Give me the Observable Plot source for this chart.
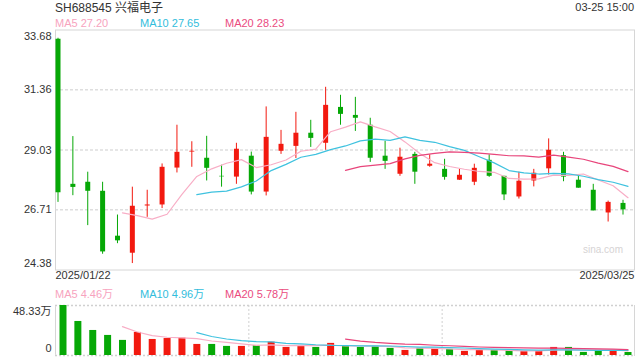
<!DOCTYPE html>
<html><head><meta charset="utf-8">
<script src="https://cdn.jsdelivr.net/npm/d3@7"></script>
<script src="https://cdn.jsdelivr.net/npm/@observablehq/plot@0.6"></script>
<style>
body{margin:0;background:#fff;}
#wrap{position:relative;width:640px;height:360px;overflow:hidden;font-family:"Liberation Sans",Arial,"Noto Sans CJK SC",sans-serif;color:#333;}
.t{position:absolute;white-space:nowrap;line-height:1;font-size:11px;}
#wrap svg{position:absolute;left:0;}
</style></head><body><div id="wrap"></div>
<script>
// ---- data ----
const dates = ["2025-01-22","2025-01-23","2025-01-24","2025-01-27","2025-02-05","2025-02-06","2025-02-07","2025-02-10","2025-02-11","2025-02-12","2025-02-13","2025-02-14","2025-02-17","2025-02-18","2025-02-19","2025-02-20","2025-02-21","2025-02-24","2025-02-25","2025-02-26","2025-02-27","2025-02-28","2025-03-03","2025-03-04","2025-03-05","2025-03-06","2025-03-07","2025-03-10","2025-03-11","2025-03-12","2025-03-13","2025-03-14","2025-03-17","2025-03-18","2025-03-19","2025-03-20","2025-03-21","2025-03-24","2025-03-25"];
const open  = [33.32,27.70,27.78,27.43,25.69,25.03,26.86,26.90,28.33,28.95,28.71,28.01,27.98,28.79,27.40,28.98,29.17,29.68,29.29,30.68,30.37,29.99,28.79,28.09,28.86,28.40,28.28,27.86,27.78,28.63,28.01,27.21,27.83,28.30,28.81,27.86,27.47,26.59,26.96];
const close = [27.37,27.58,27.43,25.08,25.51,26.85,26.90,28.36,28.94,28.98,28.32,27.99,29.06,27.40,29.52,29.25,29.68,29.48,30.76,30.41,30.26,28.71,28.59,28.75,28.17,28.48,27.97,28.05,28.32,28.01,27.29,27.82,28.13,29.02,27.98,27.55,26.67,27.00,26.71];
const high  = [33.36,29.55,28.17,27.78,26.51,27.59,27.47,28.49,29.99,29.35,29.56,28.44,29.29,28.95,30.70,29.79,30.49,30.18,31.46,31.15,31.07,30.26,29.37,29.10,28.94,28.84,28.67,28.28,28.48,28.84,28.01,28.17,28.28,29.46,28.94,28.06,27.70,27.05,27.08];
const low   = [27.00,27.26,26.10,24.99,25.40,24.63,26.42,26.76,28.14,28.36,27.83,27.59,27.70,27.29,27.25,28.86,28.70,29.13,29.02,29.99,29.75,28.55,28.28,28.01,27.70,28.36,27.86,27.85,27.65,27.97,27.07,27.13,27.60,28.06,27.80,27.55,26.67,26.24,26.51];
const volume = [48.33,32.9,24.2,19.4,14.6,22.3,15.5,16.4,16.8,10.7,10.7,8.8,8.8,9.7,12.9,7.8,9.7,7.8,11.7,8.8,7.8,8.8,6.9,4.9,6.9,6.9,5.9,4.0,4.9,4.9,4.9,4.0,4.0,7.8,7.8,3.0,4.9,4.0,2.9]; // 万股
const priceTicks = [33.68,31.36,29.03,26.71,24.38];
const volTicks = [48.33,0];
const dateLabels = ["2025/01/22","2025/03/25"];
const title = "SH688545 兴福电子";
const stamp = "03-25 15:00";
const maLabels = ["MA5 27.20","MA10 27.65","MA20 28.23"];
const volMaLabels = ["MA5 4.46万","MA10 4.96万","MA20 5.78万"];

// ---- styles ----
const RED = "#f2190f", GREEN = "#06a806";
const C5 = "#f8aec6", C10 = "#3fc2df", C20 = "#e8457b";
const T5 = "#f7a3be", T10 = "#32bddc", T20 = "#ea4b80";
const FONT = '"Liberation Sans",Arial,"Noto Sans CJK SC",sans-serif';

const rows = dates.map((d, i) => ({
  i, date: d, open: open[i], close: close[i], high: high[i], low: low[i], vol: volume[i],
  dir: close[i] >= open[i] ? "up" : "down"
}));

const wrap = document.getElementById("wrap");
function addText(txt, css, color) {
  const el = document.createElement("div");
  el.className = "t";
  el.textContent = txt;
  Object.assign(el.style, css);
  if (color) el.style.color = color;
  wrap.appendChild(el);
}
addText(title, {left: "55px", top: "1.5px", fontSize: "12px"}, "#333");
addText(stamp, {right: "6px", top: "1.7px"}, "#333");
const legX = ["55px", "140px", "225px"];
[T5, T10, T20].forEach((c, k) => addText(maLabels[k], {left: legX[k], top: "18px"}, c));
[T5, T10, T20].forEach((c, k) => addText(volMaLabels[k], {left: legX[k], top: "288.7px"}, c));

const colorScale = {domain: ["up", "down"], range: [RED, GREEN]};
const xScale = {type: "linear", domain: [0, dates.length - 1], range: [57.5, 622.5], axis: null};
const ma = (k, field, color, extra = {}) =>
  Plot.lineY(rows, Plot.windowY({k, anchor: "end", strict: true},
    {x: "i", y: field, stroke: color, strokeWidth: 1.2, dx: 5, ...extra}));

const axisOpts = {tickSize: 0, tickPadding: 4, tickFormat: d => d.toFixed(2), fill: "#333", fontSize: 11, label: null};

const main = Plot.plot({
  width: 640, height: 285,
  marginLeft: 55, marginRight: 6, marginTop: 29.5, marginBottom: 15.5,
  x: xScale,
  y: {domain: [priceTicks[4], priceTicks[0]], range: [269.5, 29.5], label: null},
  color: colorScale,
  style: {fontFamily: FONT, fontSize: "11px", color: "#333", background: "transparent", overflow: "visible"},
  marks: [
    Plot.gridY(priceTicks.slice(1, 4), {stroke: "#dedede", strokeOpacity: 1, strokeDasharray: "3,2", strokeWidth: 1.5}),
    Plot.frame({stroke: "#d6d6d6"}),
    Plot.text(["sina.com"], {frameAnchor: "bottom-right", textAnchor: "start", dx: -51.5, dy: -17, fill: "#d6d3d4", fontSize: 10}),
    Plot.ruleX(rows, {x: "i", y1: "low", y2: "high", stroke: "dir", strokeWidth: 1}),
    Plot.ruleX(rows, {x: "i", y1: "open", y2: "close", stroke: "dir", strokeWidth: 5}),
    ma(5, "close", C5),
    ma(10, "close", C10),
    ma(20, "close", C20),
    Plot.axisY(priceTicks.slice(1, 4), axisOpts),
    Plot.axisY([priceTicks[0]], {...axisOpts, dy: 6}),
    Plot.axisY([priceTicks[4]], {...axisOpts, dy: -6.3}),
    Plot.text([dateLabels[0]], {frameAnchor: "bottom-left", textAnchor: "start", dy: 9, fill: "#333", fontSize: 11}),
    Plot.text([dateLabels[1]], {frameAnchor: "bottom-right", textAnchor: "end", dy: 9, fill: "#333", fontSize: 11})
  ]
});
main.style.top = "0px";
wrap.appendChild(main);

const volAxis = {tickSize: 0, tickPadding: 4, tickFormat: d => d === 0 ? "0" : d.toFixed(2) + "万", fill: "#333", fontSize: 11, label: null};
const vol = Plot.plot({
  width: 640, height: 75,
  marginLeft: 55, marginRight: 6, marginTop: 20, marginBottom: 5,
  x: xScale,
  y: {domain: [volTicks[1], volTicks[0]], range: [70, 20], label: null},
  color: colorScale,
  style: {fontFamily: FONT, fontSize: "11px", color: "#333", background: "transparent", overflow: "visible"},
  marks: [
    Plot.frame({stroke: "#d6d6d6"}),
    Plot.ruleY(volTicks, {stroke: "#fff", strokeWidth: 1.5}),
    Plot.gridY(volTicks, {stroke: "#d0d0d0", strokeOpacity: 1, strokeDasharray: "2,2", strokeWidth: 1.5}),
    Plot.gridX([12.5, 25.5], {stroke: "#d0d0d0", strokeOpacity: 1, strokeDasharray: "2,2", dx: 5}),
    Plot.ruleX(rows, {x: "i", y1: 0, y2: "vol", stroke: "dir", strokeWidth: 7, dx: 5}),
    ma(5, "vol", C5),
    ma(10, "vol", C10),
    ma(20, "vol", C20),
    Plot.axisY([volTicks[0]], {...volAxis, dy: 5.8}),
    Plot.axisY([volTicks[1]], {...volAxis, dy: -6.8})
  ]
});
vol.style.top = "285px";
wrap.appendChild(vol);
</script>
</body></html>
